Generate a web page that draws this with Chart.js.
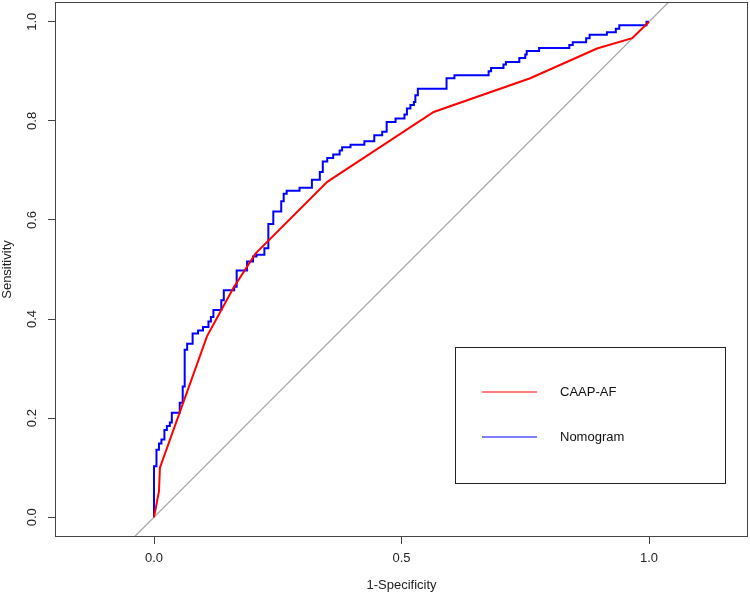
<!DOCTYPE html>
<html>
<head>
<meta charset="utf-8">
<script src="https://cdn.jsdelivr.net/npm/chart.js@4.4.0/dist/chart.umd.min.js"></script>
<style>
  html,body{margin:0;padding:0;background:#fff;}
</style>
</head>
<body>
<canvas id="roc" width="750" height="594"></canvas>
<script>
// curve names
const seriesNames = ["CAAP-AF", "Nomogram"];

// CAAP-AF (red) ROC vertices
const caapX = [0, 0.010, 0.012, 0.107, 0.160, 0.205, 0.350, 0.565, 0.760, 0.895, 0.966, 1.0];
const caapY = [0, 0.052, 0.100, 0.365, 0.462, 0.532, 0.677, 0.818, 0.886, 0.946, 0.967, 1.0];

// Nomogram (blue) ROC steps
const nomoX = [0, 0, 0.005, 0.010, 0.015, 0.021, 0.026, 0.032, 0.036, 0.052, 0.058, 0.062, 0.067, 0.078, 0.089, 0.099,
  0.110, 0.115, 0.120, 0.136, 0.141, 0.162, 0.167, 0.188, 0.200, 0.207, 0.223, 0.231, 0.241, 0.257, 0.262, 0.268,
  0.294, 0.319, 0.335, 0.341, 0.350, 0.362, 0.375, 0.380, 0.397, 0.425, 0.445, 0.461, 0.470, 0.488, 0.506, 0.511,
  0.518, 0.525, 0.528, 0.533, 0.591, 0.607, 0.676, 0.681, 0.706, 0.711, 0.738, 0.750, 0.753, 0.778, 0.839, 0.846,
  0.873, 0.880, 0.915, 0.933, 0.940, 0.995, 1.0];
const nomoY = [0, 0.103, 0.136, 0.149, 0.157, 0.176, 0.184, 0.191, 0.211, 0.231, 0.264, 0.338, 0.350, 0.371, 0.377, 0.384,
  0.395, 0.404, 0.418, 0.438, 0.458, 0.465, 0.498, 0.516, 0.526, 0.530, 0.543, 0.592, 0.617, 0.638, 0.653, 0.659,
  0.665, 0.681, 0.697, 0.718, 0.725, 0.732, 0.740, 0.747, 0.752, 0.759, 0.771, 0.778, 0.798, 0.805, 0.813, 0.825,
  0.832, 0.838, 0.852, 0.865, 0.886, 0.892, 0.900, 0.907, 0.914, 0.919, 0.927, 0.934, 0.941, 0.947, 0.953, 0.959,
  0.967, 0.974, 0.979, 0.986, 0.993, 1.0, 1.0];

// reference diagonal y = x
const diagX = [-0.2, 1.2];

const xTicks = [0, 0.5, 1.0];
const yTicks = [0, 0.2, 0.4, 0.6, 0.8, 1.0];

const fontFam = "'Liberation Sans', Arial, Helvetica, sans-serif";
const toPts = (xs, ys) => xs.map((x, i) => ({x: x, y: ys[i]}));

// frame box, rotated y labels and the boxed legend, like base R graphics
const rStyle = {
  id: 'rStyle',
  afterDraw(chart) {
    const ctx = chart.ctx, a = chart.chartArea;
    const ys = chart.scales.y;
    ctx.save();
    ctx.strokeStyle = '#444';
    ctx.lineWidth = 1;
    ctx.strokeRect(Math.round(a.left) + 0.5, Math.round(a.top) + 0.5,
      Math.round(a.right - a.left) - 1, Math.round(a.bottom - a.top) - 1);

    ctx.fillStyle = '#222';
    ctx.font = '13px ' + fontFam;
    ctx.textAlign = 'center';
    ctx.textBaseline = 'middle';
    yTicks.forEach(v => {
      ctx.save();
      ctx.translate(32, ys.getPixelForValue(v));
      ctx.rotate(-Math.PI / 2);
      ctx.fillText(v.toFixed(1), 0, 0);
      ctx.restore();
    });

    // legend
    ctx.strokeStyle = '#222';
    ctx.strokeRect(455.5, 347.5, 270, 136);
    ctx.textAlign = 'left';
    chart.data.datasets.slice(0, 2).forEach((ds, i) => {
      const ly = 392 + i * 45;
      ctx.strokeStyle = ds.borderColor;
      ctx.lineWidth = 1.2;
      ctx.beginPath();
      ctx.moveTo(482, ly);
      ctx.lineTo(537, ly);
      ctx.stroke();
      ctx.fillStyle = '#111';
      ctx.fillText(ds.label, 560, ly);
    });
    ctx.restore();
  }
};

new Chart(document.getElementById('roc'), {
  type: 'line',
  data: {
    datasets: [
      {label: seriesNames[0], data: toPts(caapX, caapY), borderColor: '#ff0000', borderWidth: 2, tension: 0},
      {label: seriesNames[1], data: toPts(nomoX, nomoY), borderColor: '#0000ff', borderWidth: 2, stepped: 'before'},
      {label: '', data: toPts(diagX, diagX), borderColor: '#aaaaaa', borderWidth: 1.3}
    ]
  },
  options: {
    responsive: false,
    animation: false,
    layout: {padding: {top: 2, right: 2, left: 0, bottom: 0}},
    elements: {point: {radius: 0}},
    plugins: {legend: {display: false}, tooltip: {enabled: false}},
    scales: {
      x: {
        type: 'linear', min: -0.2, max: 1.2,
        afterBuildTicks: s => { s.ticks = xTicks.map(v => ({value: v})); },
        afterFit: s => { s.height = 57; },
        border: {display: false},
        grid: {drawOnChartArea: false, drawTicks: true, tickLength: 7, tickColor: '#444'},
        ticks: {color: '#222', padding: 7, maxRotation: 0, font: {size: 13, family: fontFam},
          callback: v => v.toFixed(1)},
        title: {display: true, text: '1-Specificity', color: '#222', font: {size: 13, family: fontFam},
          padding: {top: 0, bottom: 1}}
      },
      y: {
        type: 'linear', min: -0.04, max: 1.04,
        afterBuildTicks: s => { s.ticks = yTicks.map(v => ({value: v})); },
        afterFit: s => { s.width = 55; },
        border: {display: false},
        grid: {drawOnChartArea: false, drawTicks: true, tickLength: 7, tickColor: '#444'},
        ticks: {display: false},
        title: {display: true, text: 'Sensitivity', color: '#222', font: {size: 13, family: fontFam},
          padding: {top: 0, bottom: 0}}
      }
    }
  },
  plugins: [rStyle]
});
</script>
</body>
</html>
